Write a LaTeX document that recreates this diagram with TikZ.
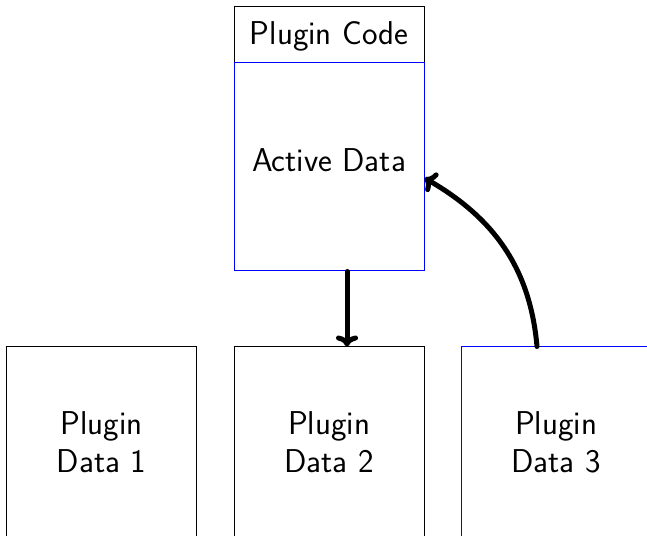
\documentclass[tikz,border=0pt]{standalone}
\usetikzlibrary{arrows.meta}
\begin{document}
\begin{tikzpicture}[x=1pt,y=1pt,
  every node/.style={font=\sffamily\fontsize{33}{38}\selectfont, align=center, inner sep=0pt},
  plainbox/.style={draw=black, line width=1pt, minimum width=190pt},
  bluebox/.style={draw=blue, line width=1pt, minimum width=190pt},
  flow/.style={line width=5pt, line cap=round, -{To[length=11pt,width=22pt,round]}}]
  \useasboundingbox (0,0) rectangle (647,535);
  \clip (0,0) rectangle (647,535);
  % plugin code block: header plus active data area
  \node[plainbox, minimum height=264pt] (code) at (329,396) {};
  \node (codetitle) at (329,499) {Plugin Code};
  \node[bluebox, minimum height=208pt] (active) at (329,368) {};
  \node (activetxt) at (329,375) {Active Data};
  % plugin data blocks
  \node[plainbox, minimum height=190pt] (d1) at (101.5,93) {Plugin\\Data 1};
  \node[plainbox, minimum height=190pt] (d2) at (329,93) {Plugin\\Data 2};
  \node[bluebox, minimum height=190pt] (d3) at (556,93) {Plugin\\Data 3};
  % connectors
  \draw[flow] (active.south -| 347,0) -- (d2.north -| 347,0);
  \draw[flow] (d3.north -| 537,0) to[out=95,in=-30] (active.east |- 0,357);
\end{tikzpicture}
\end{document}
